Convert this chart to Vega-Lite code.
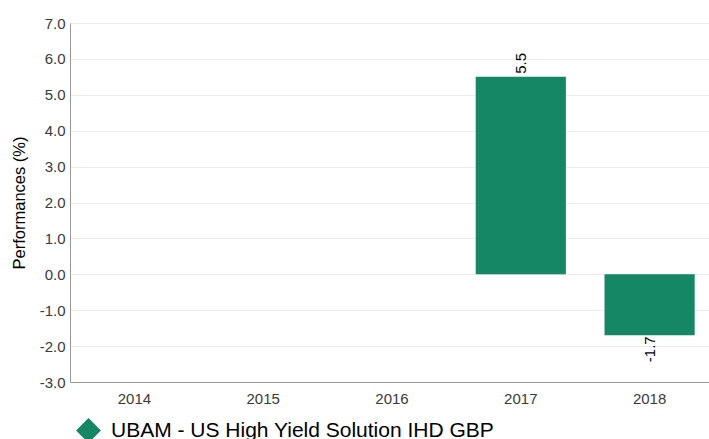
{
  "$schema": "https://vega.github.io/schema/vega-lite/v6.json",
  "width": 644,
  "height": 359,
  "padding": {"left": 11, "top": 16, "right": 0, "bottom": 0},
  "background": "white",
  "config": {
    "font": "Liberation Sans",
    "view": {"stroke": null}
  },
  "data": {
    "values": [
      {"year": "2014", "perf": null, "series": "UBAM - US High Yield Solution IHD GBP"},
      {"year": "2015", "perf": null, "series": "UBAM - US High Yield Solution IHD GBP"},
      {"year": "2016", "perf": null, "series": "UBAM - US High Yield Solution IHD GBP"},
      {"year": "2017", "perf": 5.5, "series": "UBAM - US High Yield Solution IHD GBP"},
      {"year": "2018", "perf": -1.7, "series": "UBAM - US High Yield Solution IHD GBP"}
    ]
  },
  "transform": [
    {"calculate": "isValid(datum.perf) ? replace(format(datum.perf, '.1f'), '−', '-') : ''", "as": "lbl"}
  ],
  "encoding": {
    "x": {
      "field": "year",
      "type": "nominal",
      "scale": {"domain": ["2014", "2015", "2016", "2017", "2018"], "paddingInner": 0.3, "paddingOuter": 0.15},
      "axis": {
        "title": null,
        "labelAngle": 0,
        "labelFontSize": 15,
        "labelColor": "#3a3a3a",
        "labelPadding": 9,
        "ticks": false,
        "domainColor": "#999999",
        "grid": false
      }
    },
    "y": {
      "field": "perf",
      "type": "quantitative",
      "scale": {"domain": [-3, 7], "nice": false, "zero": false},
      "axis": {
        "title": "Performances (%)",
        "titleFontSize": 16.5,
        "titleFontWeight": "normal",
        "titleColor": "#000000",
        "titlePadding": 12,
        "values": [-3, -2, -1, 0, 1, 2, 3, 4, 5, 6, 7],
        "labelExpr": "replace(format(datum.value, '.1f'), '−', '-')",
        "labelFontSize": 15,
        "labelColor": "#3a3a3a",
        "labelPadding": 5,
        "ticks": false,
        "domainColor": "#999999",
        "gridColor": "#ebebeb"
      }
    }
  },
  "layer": [
    {
      "mark": {"type": "bar"},
      "encoding": {
        "color": {
          "field": "series",
          "type": "nominal",
          "scale": {"range": ["#158764"]},
          "legend": {
            "orient": "none",
            "legendX": 6,
            "legendY": 395,
            "title": null,
            "symbolType": "diamond",
            "symbolSize": 620,
            "symbolStrokeWidth": 0,
            "symbolOpacity": 1,
            "labelFontSize": 21,
            "labelColor": "#000000",
            "labelLimit": 600,
            "labelOffset": 10,
            "padding": 0
          }
        }
      }
    },
    {
      "transform": [{"filter": "datum.perf > 0"}],
      "mark": {"type": "text", "angle": -90, "align": "left", "baseline": "middle", "dx": 3, "fontSize": 15, "color": "#000000"},
      "encoding": {"text": {"field": "lbl", "type": "nominal"}}
    },
    {
      "transform": [{"filter": "datum.perf < 0"}],
      "mark": {"type": "text", "angle": -90, "align": "right", "baseline": "middle", "dx": -1, "fontSize": 15, "color": "#000000"},
      "encoding": {"text": {"field": "lbl", "type": "nominal"}}
    }
  ]
}
